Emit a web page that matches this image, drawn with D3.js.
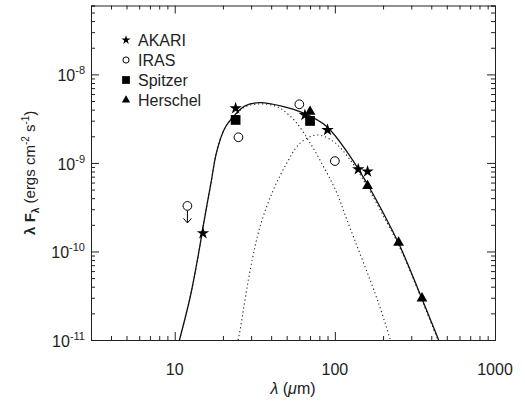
<!DOCTYPE html>
<html>
<head>
<meta charset="utf-8">
<script src="https://cdn.jsdelivr.net/npm/d3@7"></script>
<style>
  body { margin: 0; background: #fff; }
  text { font-family: "Liberation Sans", Arial, sans-serif; fill: #222; }
</style>
</head>
<body>
<svg width="525" height="401"></svg>
<script>
// photometry (wavelength in micron, lambda F_lambda in erg cm^-2 s^-1)
var akariWave = [15, 24, 65, 90, 140, 160];
var akariFlux = [1.61e-10, 4.15e-9, 3.48e-9, 2.36e-9, 8.5e-10, 8.0e-10];
var irasWave = [25, 60, 100];
var irasFlux = [1.95e-9, 4.6e-9, 1.05e-9];
var irasLimitWave = [12];
var irasLimitFlux = [3.27e-10];
var spitzerWave = [24, 70];
var spitzerFlux = [3.06e-9, 2.98e-9];
var herschelWave = [70, 160, 250, 350];
var herschelFlux = [3.8e-9, 5.5e-10, 1.26e-10, 2.96e-11];

// model curves
var totalWave = [10.7, 12.5, 14.1, 15.1, 16.8, 18.3, 20.5, 23.2, 27.5, 34.1, 47.8, 63.4, 89.2, 124.8, 158.5, 201, 256, 326, 445];
var totalFlux = [1e-11, 3.08e-11, 9.55e-11, 2.0e-10, 5.8e-10, 1.35e-9, 2.45e-9, 3.33e-9, 4.41e-9, 4.8e-9, 4.33e-9, 3.67e-9, 2.57e-9, 1.18e-9, 5.9e-10, 2.7e-10, 1.13e-10, 4.0e-11, 1e-11];
var warmWave = [10.7, 12.5, 14.1, 15.1, 16.8, 18.3, 20.5, 23.2, 27.5, 34.1, 43.5, 50.1, 57.9, 70.2, 85, 103, 119, 187.6, 222];
var warmFlux = [1e-11, 3.08e-11, 9.55e-11, 2.0e-10, 5.8e-10, 1.35e-9, 2.45e-9, 3.3e-9, 4.3e-9, 4.64e-9, 4.33e-9, 3.65e-9, 2.81e-9, 1.67e-9, 9.08e-10, 4.55e-10, 2.27e-10, 2.6e-11, 1e-11];
var coldWave = [24.9, 25.6, 29.6, 34.1, 41.3, 50.1, 60.6, 77.2, 98, 124.8, 158.5, 201, 256, 326, 440];
var coldFlux = [1e-11, 1.3e-11, 6.18e-11, 1.91e-10, 4.95e-10, 9.93e-10, 1.67e-9, 2.07e-9, 1.74e-9, 1.08e-9, 5.5e-10, 2.52e-10, 1.08e-10, 3.87e-11, 1e-11];

var xTickValues = [10, 100, 1000];
var xTickLabels = ["10", "100", "1000"];
var yTickExponents = [-11, -10, -9, -8];

var legendNames = ["AKARI", "IRAS", "Spitzer", "Herschel"];

var svg = d3.select("svg");
var margin = {top: 5.5, right: 30, bottom: 61, left: 91};
var width = 525 - margin.left - margin.right;
var height = 401 - margin.top - margin.bottom;
var ink = "#222";

var x = d3.scaleLog().domain([3, 1000]).range([0, width]);
var y = d3.scaleLog().domain([1e-11, 6e-8]).range([height, 0]);

var g = svg.append("g")
  .attr("transform", "translate(" + margin.left + "," + margin.top + ")");

g.append("clipPath").attr("id", "clip")
  .append("rect").attr("width", width).attr("height", height);

// minor + major ticks for a log axis
function logTicks(scale) {
  var d = scale.domain(), out = [];
  for (var e = Math.floor(Math.log10(d[0])); e <= Math.ceil(Math.log10(d[1])); e++) {
    for (var m = 1; m < 10; m++) {
      var v = m * Math.pow(10, e);
      if (v >= d[0] * 0.999 && v <= d[1] * 1.001) out.push({v: v, major: m === 1});
    }
  }
  return out;
}
var xt = logTicks(x), yt = logTicks(y);

function drawAxis(axisFn, scale, ticks, transform, sign) {
  var ax = g.append("g").attr("transform", transform)
    .call(axisFn(scale).tickValues(ticks.map(function(t) { return t.v; }))
      .tickSize(-4).tickFormat(""));
  ax.selectAll(".tick line")
    .attr("stroke", ink)
    .each(function(d) {
      var big = ticks.some(function(t) { return t.major && t.v === d; });
      if (big) {
        var el = d3.select(this);
        if (el.attr("x2") != null && +el.attr("x2") !== 0) el.attr("x2", sign * 8);
        if (el.attr("y2") != null && +el.attr("y2") !== 0) el.attr("y2", sign * 8);
      }
    });
  ax.select(".domain").attr("stroke", ink);
  return ax;
}
drawAxis(d3.axisBottom, x, xt, "translate(0," + height + ")", -1);
drawAxis(d3.axisTop, x, xt, "translate(0,0)", 1);
drawAxis(d3.axisLeft, y, yt, "translate(0,0)", 1);
drawAxis(d3.axisRight, y, yt, "translate(" + width + ",0)", -1);

// tick labels
xTickValues.forEach(function(v, i) {
  g.append("text")
    .attr("x", x(v)).attr("y", height + 35)
    .attr("text-anchor", "middle")
    .style("font-size", "16px")
    .text(xTickLabels[i]);
});
yTickExponents.forEach(function(e) {
  var t = g.append("text")
    .attr("x", -6).attr("y", y(Math.pow(10, e)) + 7)
    .attr("text-anchor", "end")
    .style("font-size", "16px");
  t.append("tspan").text("10");
  t.append("tspan").attr("dy", -7).style("font-size", "11px").text(e);
});

// axis titles
var xl = svg.append("text")
  .attr("x", margin.left + width / 2).attr("y", 394)
  .attr("text-anchor", "middle")
  .style("font-size", "16px");
xl.append("tspan").style("font-style", "italic").text("λ");
xl.append("tspan").text(" (");
xl.append("tspan").style("font-style", "italic").text("μ");
xl.append("tspan").text("m)");

var yl = svg.append("text")
  .attr("transform", "translate(35," + (margin.top + height / 2) + ") rotate(-90)")
  .attr("text-anchor", "middle")
  .style("font-size", "15px");
yl.append("tspan").style("font-weight", "bold").text("λ F");
yl.append("tspan").attr("dy", 4).style("font-size", "10px").style("font-weight", "bold").text("λ");
yl.append("tspan").attr("dy", -4).text(" (ergs cm");
yl.append("tspan").attr("dy", -6).style("font-size", "10px").text("-2");
yl.append("tspan").attr("dy", 6).text(" s");
yl.append("tspan").attr("dy", -6).style("font-size", "10px").text("-1");
yl.append("tspan").attr("dy", 6).text(")");

// model curves
var plot = g.append("g").attr("clip-path", "url(#clip)");
function curve(w, f) {
  return w.map(function(v, i) { return [v, f[i]]; });
}
var line = d3.line()
  .x(function(d) { return x(d[0]); })
  .y(function(d) { return y(d[1]); })
  .curve(d3.curveCatmullRom.alpha(0.5));

plot.append("path").datum(curve(warmWave, warmFlux))
  .attr("d", line).attr("fill", "none").attr("stroke", ink)
  .attr("stroke-width", 1.1).attr("stroke-dasharray", "1.2,2.8");
plot.append("path").datum(curve(coldWave, coldFlux))
  .attr("d", line).attr("fill", "none").attr("stroke", ink)
  .attr("stroke-width", 1.1).attr("stroke-dasharray", "1.2,2.8");
plot.append("path").datum(curve(totalWave, totalFlux))
  .attr("d", line).attr("fill", "none").attr("stroke", "#111")
  .attr("stroke-width", 1.3);

// data points
function points(w, f, type, size, filled) {
  g.append("g").selectAll("path")
    .data(curve(w, f))
    .enter().append("path")
    .attr("transform", function(d) { return "translate(" + x(d[0]) + "," + y(d[1]) + ")"; })
    .attr("d", d3.symbol().type(type).size(size))
    .attr("fill", filled ? "#000" : "#fff")
    .attr("stroke", "#000")
    .attr("stroke-width", filled ? 0 : 1);
}
points(irasWave, irasFlux, d3.symbolCircle, 60, false);
points(irasLimitWave, irasLimitFlux, d3.symbolCircle, 60, false);
points(spitzerWave, spitzerFlux, d3.symbolSquare, 95, true);
points(herschelWave, herschelFlux, d3.symbolTriangle, 50, true);
points(akariWave, akariFlux, d3.symbolStar, 48, true);

// upper-limit arrow
irasLimitWave.forEach(function(v, i) {
  var cx = x(v), cy = y(irasLimitFlux[i]);
  g.append("path")
    .attr("d", "M" + cx + "," + (cy + 4.5) + "V" + (cy + 17) +
      "M" + (cx - 4) + "," + (cy + 12.5) + "L" + cx + "," + (cy + 17) + "L" + (cx + 4) + "," + (cy + 12.5))
    .attr("fill", "none").attr("stroke", "#000").attr("stroke-width", 1);
});

// legend
var legTypes = [d3.symbolStar, d3.symbolCircle, d3.symbolSquare, d3.symbolTriangle];
var legSizes = [26, 30, 60, 30];
var leg = svg.append("g").attr("transform", "translate(126,40)");
legendNames.forEach(function(name, i) {
  leg.append("path")
    .attr("transform", "translate(0," + (i * 20) + ")")
    .attr("d", d3.symbol().type(legTypes[i]).size(legSizes[i]))
    .attr("fill", i === 1 ? "#fff" : "#000")
    .attr("stroke", "#000")
    .attr("stroke-width", i === 1 ? 1 : 0);
  leg.append("text")
    .attr("x", 12).attr("y", i * 20 + 5.5)
    .style("font-size", "16px")
    .text(name);
});
</script>
</body>
</html>
